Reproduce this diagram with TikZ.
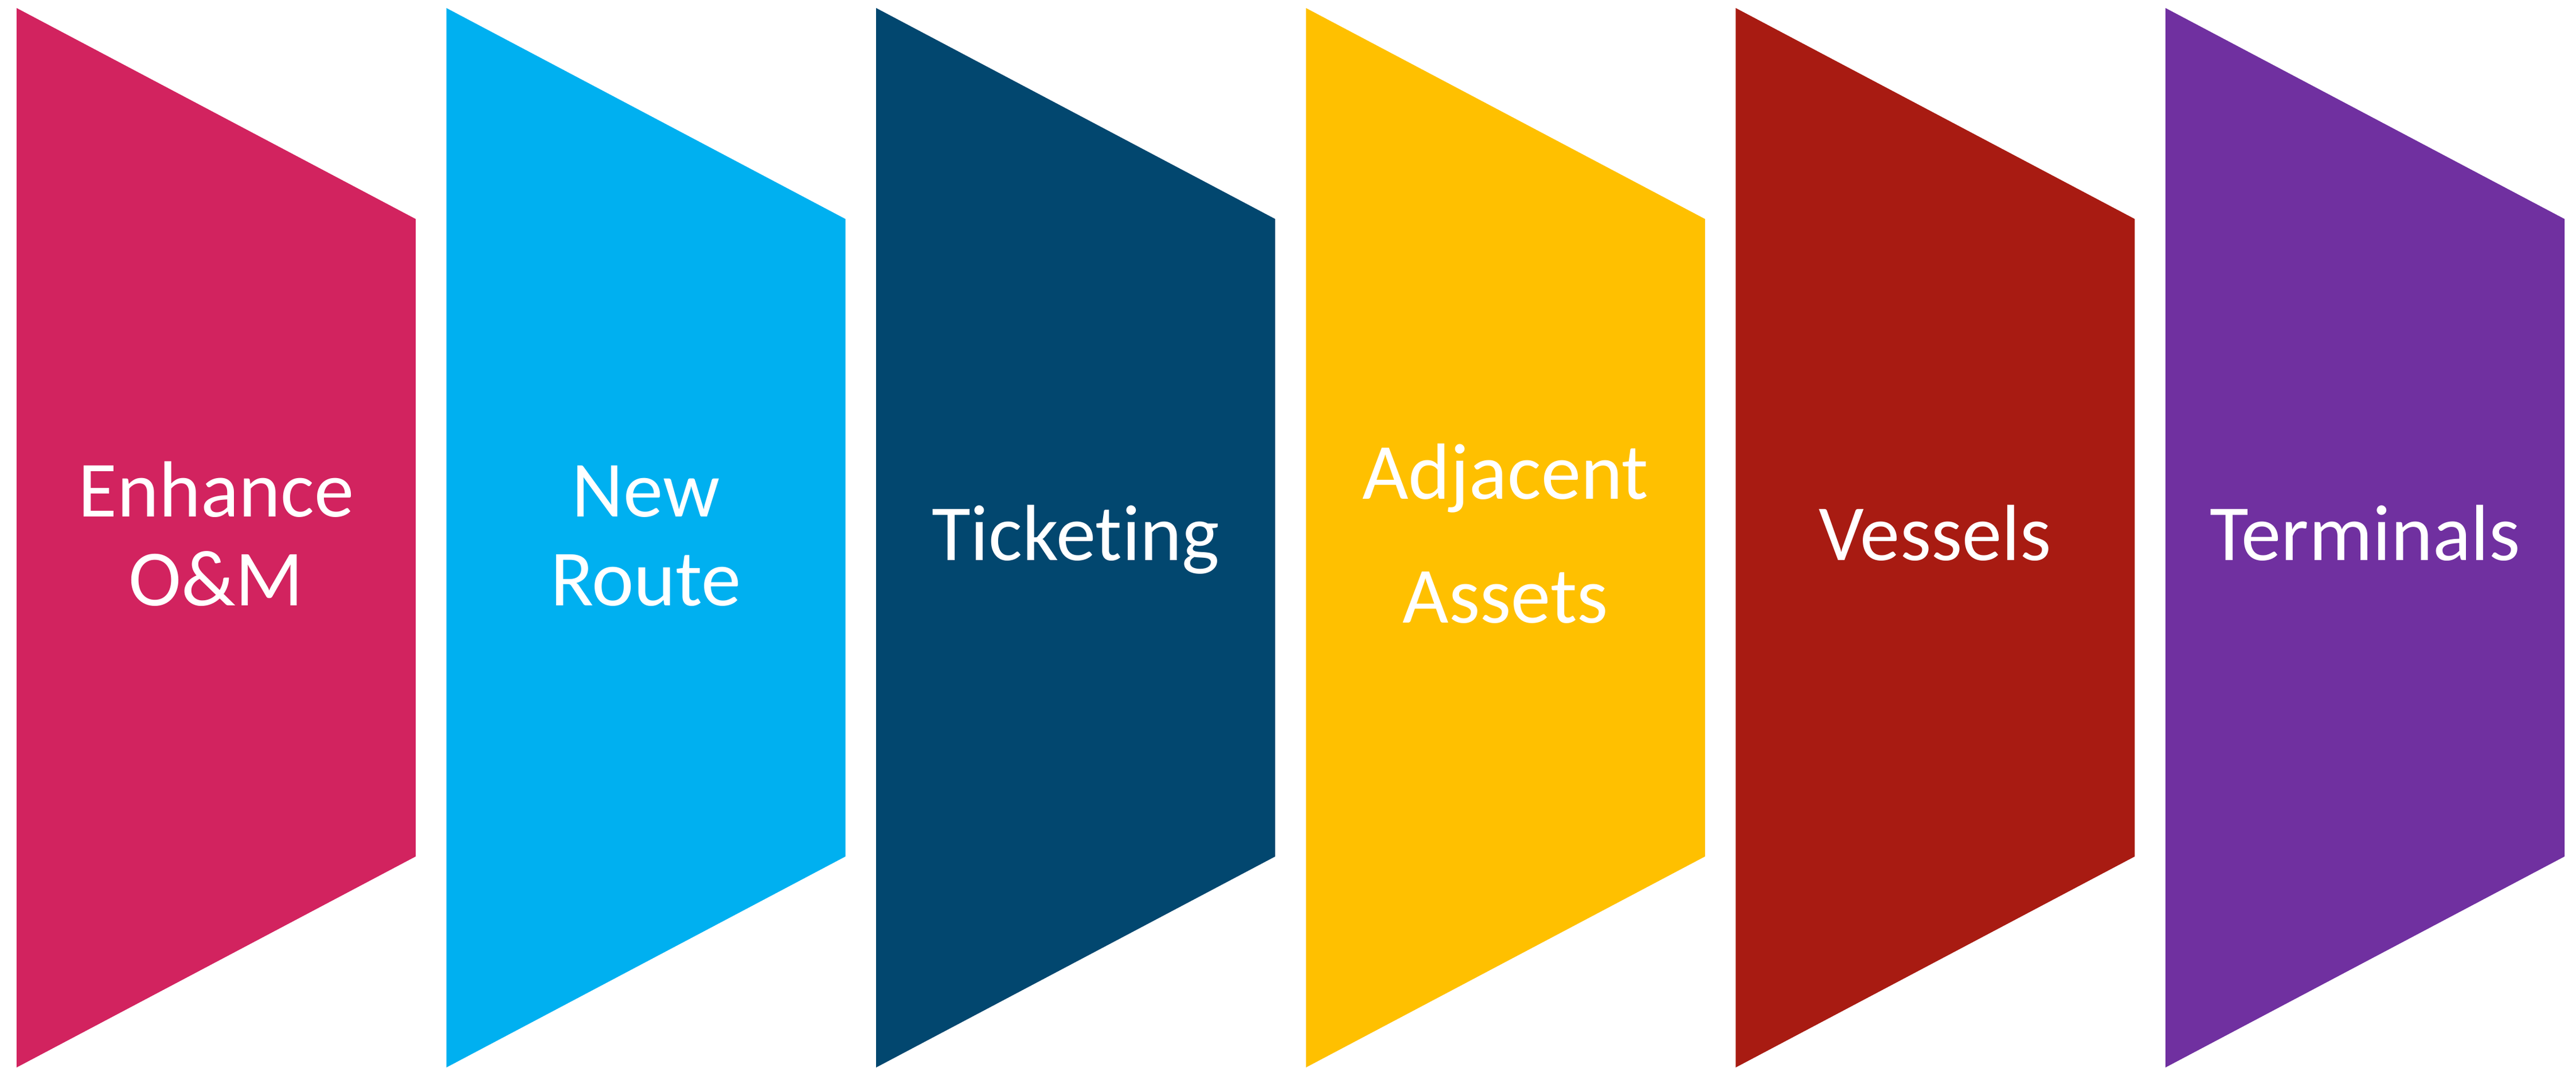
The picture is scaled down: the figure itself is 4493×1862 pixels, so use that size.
\documentclass[tikz,border=0pt]{standalone}
\usepackage{fontspec}
\setmainfont{Carlito}[Ligatures={NoCommon,NoRare,NoContextual}]
\definecolor{cpink}{HTML}{D2235F}
\definecolor{cblue}{HTML}{00B0F0}
\definecolor{cnavy}{HTML}{02476F}
\definecolor{cyellow}{HTML}{FFC000}
\definecolor{cred}{HTML}{A81B12}
\definecolor{cpurple}{HTML}{7030A0}
\tikzset{
  lbl/.style={text=white, align=center, inner sep=0pt, anchor=south, text depth=0pt},
  fs/.style={font=\fontsize{39.5}{#1}\selectfont}
}
\begin{document}
\begin{tikzpicture}[x=0.01cm,y=-0.01cm]
\useasboundingbox (0,0) rectangle (4493,1862);
\foreach \i/\c/\t/\b/\s [count=\n] in {
  0/cpink/{Enhance\\O\&M}/1057/44.1,
  1/cblue/{New\\Route}/1057/44.1,
  2/cnavy/{Ticketing}/978/44.1,
  3/cyellow/{Adjacent\\Assets}/1087/61.5,
  4/cred/{Vessels}/978/44.1,
  5/cpurple/{Terminals}/978/44.1}{
  \pgfmathsetmacro{\L}{29+749.6*\i}
  \fill[\c] (\L,14) -- (\L+696,382) -- (\L+696,1494) -- (\L,1862) -- cycle;
  \node[lbl, fs=\s] (t\n) at (\L+348,\b) {\t};
}
\end{tikzpicture}
\end{document}
